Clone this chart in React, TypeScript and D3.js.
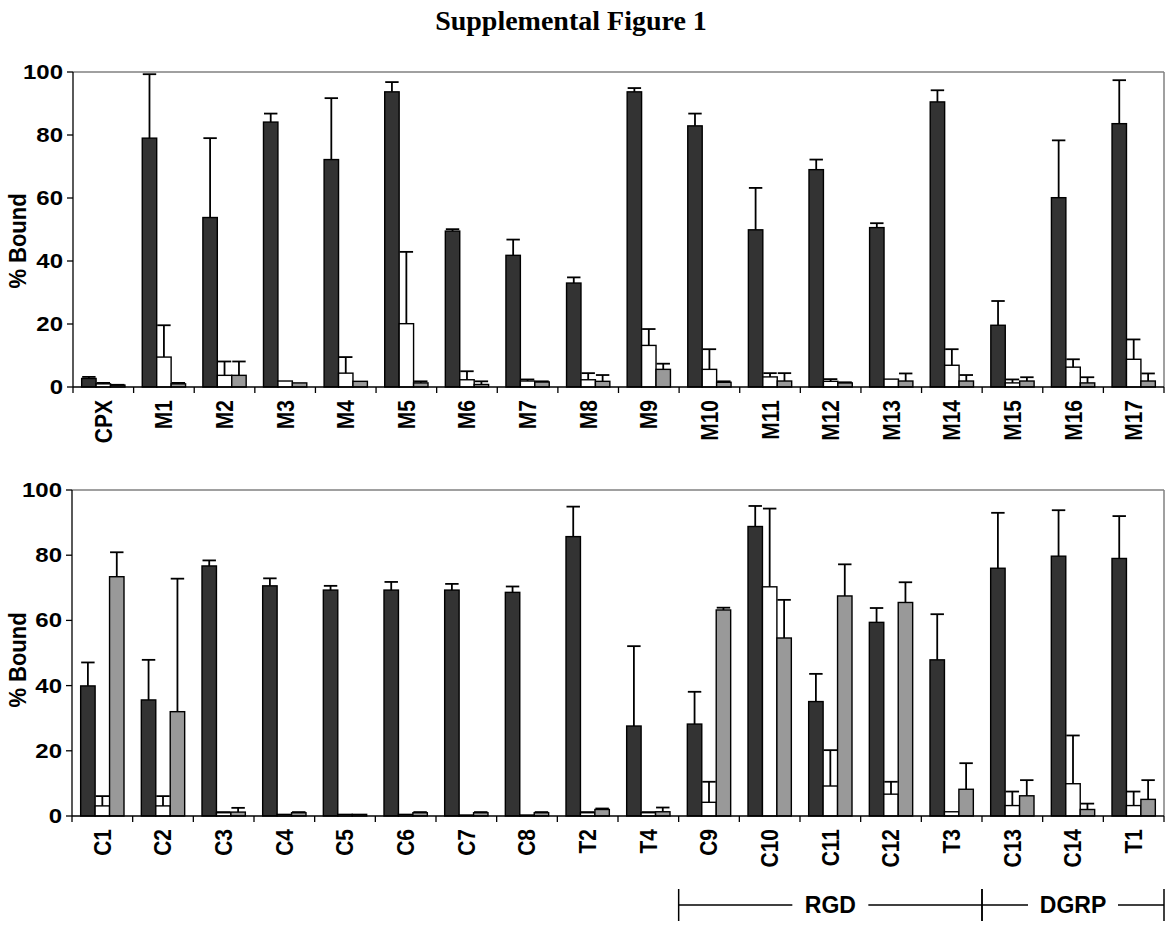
import React from "react";
import * as d3 from "d3";

// ---------- DATA ----------
const topCategories = ["CPX","M1","M2","M3","M4","M5","M6","M7","M8","M9","M10","M11","M12","M13","M14","M15","M16","M17"];
const topDark =      [2.7, 79.0, 53.8, 84.1, 72.2, 93.7, 49.5, 41.8, 33.0, 93.7, 82.9, 49.9, 69.0, 50.6, 90.5, 19.6, 60.1, 83.6];
const topDarkErr =   [3.2, 99.3, 79.0, 86.8, 91.7, 96.8, 50.1, 46.8, 34.8, 94.9, 86.8, 63.2, 72.2, 52.0, 94.2, 27.3, 78.3, 97.4];
const topWhite =     [1.0, 9.5, 3.7, 1.9, 4.4, 20.1, 2.3, 1.9, 2.3, 13.2, 5.6, 3.2, 1.8, 2.5, 6.9, 1.3, 6.3, 8.8];
const topWhiteErr =  [1.3, 19.6, 8.1, 1.9, 9.5, 42.9, 5.0, 2.4, 4.4, 18.4, 12.0, 4.4, 2.5, 2.5, 12.0, 2.4, 8.8, 15.1];
const topGray =      [0.6, 1.0, 3.7, 1.3, 1.8, 1.3, 0.8, 1.6, 1.8, 5.6, 1.5, 1.9, 1.3, 1.9, 1.9, 1.9, 1.3, 1.9];
const topGrayErr =   [0.7, 1.3, 8.1, 1.3, 1.8, 1.8, 1.8, 1.8, 3.8, 7.4, 1.8, 4.4, 1.5, 4.3, 3.8, 3.1, 3.1, 4.3];

const botCategories = ["C1","C2","C3","C4","C5","C6","C7","C8","T2","T4","C9","C10","C11","C12","T3","C13","C14","T1"];
const botDark =      [39.9, 35.6, 76.7, 70.6, 69.3, 69.3, 69.3, 68.6, 85.7, 27.6, 28.2, 88.8, 35.1, 59.4, 47.9, 76.0, 79.7, 79.0];
const botDarkErr =   [47.1, 47.9, 78.4, 72.9, 70.6, 71.8, 71.2, 70.4, 94.9, 52.1, 38.1, 95.1, 43.6, 63.8, 61.9, 93.0, 93.8, 92.0];
const botWhite =     [3.1, 3.1, 1.0, 0.5, 0.5, 0.5, 0.3, 0.3, 1.0, 1.0, 4.2, 70.3, 9.2, 6.7, 1.3, 3.2, 9.9, 3.2];
const botWhiteErr =  [6.1, 6.1, 1.2, 0.5, 0.5, 0.5, 0.3, 0.3, 1.2, 1.2, 10.5, 94.3, 20.2, 10.5, 1.3, 7.5, 24.7, 7.5];
const botGray =      [73.4, 32.0, 1.2, 1.0, 0.5, 1.0, 1.0, 1.0, 2.0, 1.3, 63.2, 54.6, 67.5, 65.5, 8.2, 6.2, 2.0, 5.1];
const botGrayErr =   [80.9, 72.8, 2.5, 1.2, 0.5, 1.2, 1.2, 1.2, 2.3, 2.6, 63.9, 66.3, 77.2, 71.7, 16.2, 11.0, 3.8, 11.0];

const yTicks = [0, 20, 40, 60, 80, 100];
const groups = [
  { label: "RGD", from: "C9", to: "T3" },
  { label: "DGRP", from: "C13", to: "T1" },
];

const seriesColors = ["#333333", "#ffffff", "#999999"];

const W = 1167;
const H = 930;
const FONT = "Arial, 'Liberation Sans', Helvetica, sans-serif";

type PanelProps = {
  categories: string[];
  series: number[][];
  errs: number[][];
  left: number;
  right: number;
  top: number;
  bottom: number;
  titleY: number;
};

function Panel({ categories, series, errs, left, right, top, bottom, titleY }: PanelProps) {
  const x = d3.scaleBand<string>().domain(categories).range([left, right]).paddingInner(0).paddingOuter(0);
  const y = d3.scaleLinear().domain([0, 100]).range([bottom, top]);
  const band = x.bandwidth();
  const sub = d3
    .scaleBand<number>()
    .domain([0, 1, 2])
    .range([0, band])
    .paddingInner(0)
    .paddingOuter(0.6);
  const bw = sub.bandwidth();
  const capHalf = bw / 2 - 0.5;

  return (
    <g>
      <line x1={left} x2={right} y1={top} y2={top} stroke="#808080" strokeWidth={1.5} />
      <line x1={right} x2={right} y1={top} y2={bottom} stroke="#808080" strokeWidth={1.5} />

      {categories.map((c, i) => (
        <g key={c}>
          {series.map((s, k) => {
            const bx = (x(c) as number) + (sub(k) as number);
            const v = s[i];
            const e = errs[k][i];
            const yv = y(v);
            const ye = y(e);
            const cx = bx + bw / 2;
            return (
              <g key={k}>
                <rect
                  x={bx}
                  y={yv}
                  width={bw}
                  height={Math.max(0, bottom - yv)}
                  fill={seriesColors[k]}
                  stroke="#000"
                  strokeWidth={1.4}
                />
                {e > v + 0.05 && (
                  <g stroke="#000" strokeWidth={1.8}>
                    <line x1={cx} x2={cx} y1={yv} y2={ye} />
                    <line x1={cx - capHalf} x2={cx + capHalf} y1={ye} y2={ye} />
                  </g>
                )}
              </g>
            );
          })}
        </g>
      ))}

      <line x1={left} x2={left} y1={top} y2={bottom} stroke="#000" strokeWidth={1.3} />
      <line x1={left} x2={right} y1={bottom} y2={bottom} stroke="#000" strokeWidth={1.3} />
      {yTicks.map((t) => (
        <g key={t}>
          <line x1={left - 6} x2={left} y1={y(t)} y2={y(t)} stroke="#000" strokeWidth={1.3} />
          <text
            transform={`translate(${left - 10},${y(t)}) scale(1.2,1)`}
            textAnchor="end"
            dy="0.35em"
            fontFamily={FONT}
            fontWeight="bold"
            fontSize={20}
          >
            {t}
          </text>
        </g>
      ))}
      {d3.range(categories.length + 1).map((i) => {
        const tx = left + i * band;
        return <line key={i} x1={tx} x2={tx} y1={bottom} y2={bottom + 6} stroke="#000" strokeWidth={1.3} />;
      })}
      {categories.map((c) => (
        <text
          key={c}
          transform={`translate(${(x(c) as number) + band / 2},${bottom + 13}) scale(1.12,1) rotate(-90)`}
          textAnchor="end"
          dy="0.36em"
          fontFamily={FONT}
          fontWeight="bold"
          fontSize={21}
        >
          {c}
        </text>
      ))}
      <text
        transform={`translate(17,${titleY}) scale(1.08,1) rotate(-90)`}
        textAnchor="middle"
        dy="0.36em"
        fontFamily={FONT}
        fontWeight="bold"
        fontSize={22}
      >
        % Bound
      </text>
    </g>
  );
}

export default function App() {
  const left = 73;
  const right = 1164;
  const botX = d3.scaleBand<string>().domain(botCategories).range([72, right]);
  const bandB = botX.bandwidth();
  const bracketY = 905;

  return (
    <svg width={W} height={H} style={{ display: "block", position: "absolute", left: 0, top: 0, background: "#fff" }}>
      <rect width={W} height={H} fill="#fff" />
      <text
        x={571}
        y={30}
        textAnchor="middle"
        fontFamily="'Times New Roman', 'Liberation Serif', serif"
        fontWeight="bold"
        fontSize={28}
      >
        Supplemental Figure 1
      </text>
      <Panel
        categories={topCategories}
        series={[topDark, topWhite, topGray]}
        errs={[topDarkErr, topWhiteErr, topGrayErr]}
        left={left}
        right={right}
        top={72}
        bottom={387}
        titleY={241}
      />
      <Panel
        categories={botCategories}
        series={[botDark, botWhite, botGray]}
        errs={[botDarkErr, botWhiteErr, botGrayErr]}
        left={72}
        right={right}
        top={490}
        bottom={816}
        titleY={660}
      />
      {groups.map((g) => {
        const x0 = botX(g.from) as number;
        const x1 = (botX(g.to) as number) + bandB;
        const cx = (x0 + x1) / 2;
        const half = g.label === "RGD" ? 38 : 45;
        return (
          <g key={g.label}>
            <line x1={x0} x2={x0} y1={bracketY - 16} y2={bracketY + 16} stroke="#000" strokeWidth={1.5} />
            <line x1={x1} x2={x1} y1={bracketY - 16} y2={bracketY + 16} stroke="#000" strokeWidth={1.5} />
            <line x1={x0} x2={cx - half} y1={bracketY} y2={bracketY} stroke="#000" strokeWidth={1.5} />
            <line x1={cx + half} x2={x1} y1={bracketY} y2={bracketY} stroke="#000" strokeWidth={1.5} />
            <text
              x={cx}
              y={bracketY}
              dy="0.36em"
              textAnchor="middle"
              fontFamily={FONT}
              fontWeight="bold"
              fontSize={23}
            >
              {g.label}
            </text>
          </g>
        );
      })}
    </svg>
  );
}
